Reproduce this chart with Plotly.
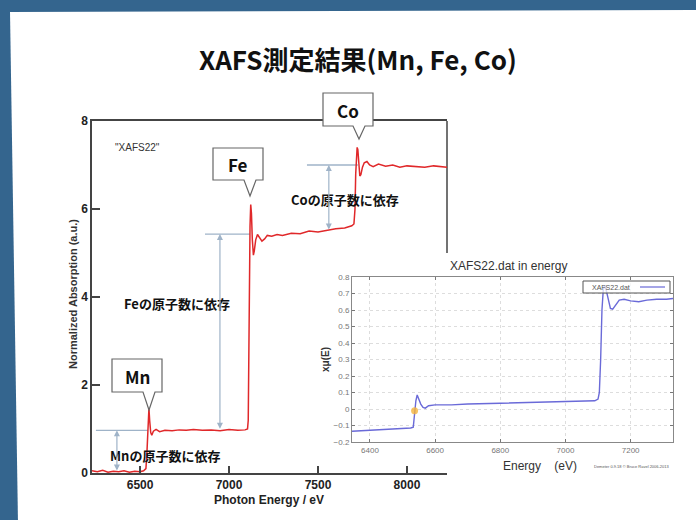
import plotly.graph_objects as go

W, H = 696, 520
def X(px): return px / W
def Y(py): return 1 - py / H

# ---------------- data ----------------
main_energy = [6230, 6260, 6290, 6320, 6350, 6380, 6410, 6440, 6470, 6500, 6520, 6533, 6538,
               6542, 6546, 6550, 6554, 6560, 6566, 6575, 6590, 6610, 6640, 6680, 6720, 6760,
               6800, 6850, 6900, 6950, 7000, 7050, 7090, 7104, 7108, 7111, 7114, 7118, 7122,
               7126, 7131, 7137, 7142, 7150, 7160, 7172, 7185, 7200, 7215, 7240, 7270, 7300,
               7350, 7400, 7450, 7500, 7550, 7600, 7650, 7690, 7702, 7708, 7712, 7716, 7720,
               7724, 7729, 7735, 7741, 7750, 7760, 7775, 7790, 7810, 7840, 7880, 7920, 7960,
               8000, 8050, 8100, 8150, 8200, 8225]
main_absorption = [0.05, 0.03, 0.06, 0.02, 0.04, 0.03, 0.05, 0.02, 0.04, 0.03, 0.05, 0.1, 0.4,
                   0.9, 1.25, 1.47, 1.2, 0.92, 0.86, 0.95, 0.99, 0.94, 0.97, 0.96, 0.98, 0.97,
                   0.99, 0.97, 0.98, 0.96, 0.99, 0.97, 0.98, 1.0, 1.2, 2.5, 4.5, 5.6, 6.1,
                   5.9, 5.3, 4.95, 5.05, 5.3, 5.42, 5.35, 5.27, 5.32, 5.4, 5.38, 5.42, 5.4,
                   5.45, 5.44, 5.5, 5.48, 5.52, 5.55, 5.57, 5.62, 5.66, 6.0, 6.8, 7.2, 7.4,
                   7.35, 7.0, 6.75, 6.78, 6.95, 7.05, 7.08, 7.0, 6.96, 7.02, 6.97, 7.0, 6.95,
                   6.98, 6.97, 6.95, 6.98, 6.96, 6.95]

inset_energy = [6345, 6400, 6450, 6500, 6525, 6533, 6537, 6541, 6545, 6550, 6556, 6563, 6570,
                6580, 6600, 6650, 6700, 6800, 6900, 7000, 7050, 7090, 7100, 7104, 7108, 7112,
                7116, 7120, 7125, 7131, 7138, 7145, 7155, 7165, 7180, 7200, 7225, 7250, 7280,
                7310, 7330]
inset_mu = [-0.135, -0.13, -0.125, -0.12, -0.115, -0.11, -0.02, 0.05, 0.085, 0.06, 0.03, 0.01,
            0.005, 0.02, 0.025, 0.025, 0.03, 0.035, 0.04, 0.045, 0.045, 0.05, 0.06, 0.1, 0.3,
            0.6, 0.72, 0.75, 0.72, 0.66, 0.61, 0.605, 0.635, 0.66, 0.665, 0.655, 0.65, 0.66,
            0.665, 0.665, 0.67]
e0_energy = [6537]
e0_mu = [-0.01]

main_xticks = [6500, 7000, 7500, 8000]
main_yticks = [0, 2, 4, 6, 8]
inset_xticks = [6400, 6600, 6800, 7000, 7200]

# reference levels (edge step heights)
mn_level, fe_level, co_level, fe_top_level = 0.97, 5.43, 7.0, 5.5

# ---------------- figure ----------------
fig = go.Figure()
fig.add_trace(go.Scatter(x=main_energy, y=main_absorption, mode="lines",
                         line=dict(color="#e0282a", width=1.5), showlegend=False,
                         xaxis="x", yaxis="y", hoverinfo="skip"))
fig.add_trace(go.Scatter(x=inset_energy, y=inset_mu, mode="lines",
                         line=dict(color="#6a6ad8", width=1.4), showlegend=False,
                         xaxis="x2", yaxis="y2", hoverinfo="skip"))
fig.add_trace(go.Scatter(x=e0_energy, y=e0_mu, mode="markers",
                         marker=dict(color="rgba(245,180,60,0.8)", size=7),
                         showlegend=False, xaxis="x2", yaxis="y2", hoverinfo="skip"))

axis_font = dict(family="Liberation Sans, Arial, sans-serif", size=12, color="#222", weight="bold")

shapes = []
# slide white panel (slightly skewed like the photographed slide)
shapes.append(dict(type="path", xref="paper", yref="paper",
                   path=f"M {X(10)} {Y(12)} L {X(700)} {Y(10)} L {X(700)} {Y(524)} L {X(18)} {Y(524)} Z",
                   fillcolor="white", line=dict(width=0), layer="below"))
# inset panel
shapes.append(dict(type="rect", xref="paper", yref="paper", x0=X(318), x1=X(700), y0=Y(470), y1=Y(253),
                   fillcolor="white", line=dict(width=0), layer="below"))
# main right border (upper part visible above inset)
shapes.append(dict(type="line", xref="paper", yref="paper", x0=X(447), x1=X(447), y0=Y(253), y1=Y(121),
                   line=dict(color="#444", width=1.5), layer="below"))

ref_col = "#9fb3c8"
for e0, e1, lv in [(6252, 6545, mn_level), (6865, 7118, fe_level), (7438, 7724, co_level)]:
    shapes.append(dict(type="line", xref="x", yref="y", x0=e0, x1=e1, y0=lv, y1=lv,
                       line=dict(color=ref_col, width=1.3), layer="below"))

# callout boxes
def callout(x1, x2, y1, y2, pl, pr, tx, ty):
    path = (f"M {X(x1)} {Y(y1)} L {X(x2)} {Y(y1)} L {X(x2)} {Y(y2)} L {X(pr)} {Y(y2)} "
            f"L {X(tx)} {Y(ty)} L {X(pl)} {Y(y2)} L {X(x1)} {Y(y2)} Z")
    return dict(type="path", xref="paper", yref="paper", path=path, fillcolor="white",
                line=dict(color="#666", width=1.2), layer="above")

shapes.append(callout(112, 162, 359, 392, 143, 155, 149, 410))
shapes.append(callout(213, 263, 148, 180, 244, 256, 250, 196))
shapes.append(callout(323, 373, 93, 126, 353, 365, 359, 139))

# inset legend
shapes.append(dict(type="rect", xref="paper", yref="paper", x0=X(583), x1=X(670), y0=Y(293), y1=Y(281),
                   fillcolor="rgba(255,255,255,0.75)", line=dict(color="#555", width=1), layer="above"))
shapes.append(dict(type="line", xref="paper", yref="paper", x0=X(640), x1=X(665), y0=Y(287), y1=Y(287),
                   line=dict(color="#6a6ad8", width=1.2), layer="above"))

annotations = []
def txt(x, y, s, size, color="#111", bold=False, family="Noto Sans CJK JP", **kw):
    annotations.append(dict(x=X(x), y=Y(y), xref="paper", yref="paper", text=s, showarrow=False,
                            xanchor="center", yanchor="middle",
                            font=dict(family=family, size=size, color=color,
                                      weight="bold" if bold else "normal"), **kw))

# title
txt(358, 58, "XAFS測定結果(Mn, Fe, Co)", 26, "#111", True)
# callout labels
txt(137, 376, "Mn", 17, "#111", True)
txt(238, 164, "Fe", 17, "#111", True)
txt(348, 110, "Co", 17, "#111", True)
# edge-step labels
txt(165, 455, "Mnの原子数に依存", 13, "#111", True)
txt(177, 303, "Feの原子数に依存", 13, "#111", True)
txt(345, 199, "Coの原子数に依存", 13, "#111", True)
txt(137, 147, '"XAFS22"', 10, "#333", False, "Liberation Sans, Arial")
# main axis titles
txt(269, 500, "Photon Energy / eV", 12, "#222", True, "Liberation Sans, Arial")
txt(73, 294, "Normalized Absorption (a.u.)", 11, "#333", True, "Liberation Sans, Arial", textangle=-90)
# inset texts
txt(508, 266, "XAFS22.dat in energy", 12, "#333", False, "Liberation Sans, Arial")
txt(540, 466, "Energy    (eV)", 12, "#333", False, "Liberation Sans, Arial")
txt(632, 466, "Demeter 0.9.18 © Bruce Ravel 2006-2013", 4, "#555", False, "Liberation Sans, Arial")
txt(325, 360, "xμ(E)", 10, "#333", True, "Liberation Sans, Arial", textangle=-90)
txt(611, 287, "XAFS22.dat", 7, "#555", False, "Liberation Sans, Arial")

# double-headed arrows for edge steps
for e, y0, y1 in [(6370, 0.02, mn_level), (6949, mn_level, fe_level), (7561, fe_top_level, co_level)]:
    annotations.append(dict(x=e, y=y1, ax=e, ay=y0, xref="x", yref="y", axref="x", ayref="y",
                            text="", showarrow=True, arrowhead=2, arrowside="end+start",
                            arrowsize=1, arrowwidth=1.2, arrowcolor=ref_col))

fig.update_layout(
    width=W, height=H, margin=dict(l=0, r=0, t=0, b=0, pad=0, autoexpand=False),
    paper_bgcolor="#34658e", plot_bgcolor="rgba(0,0,0,0)",
    shapes=shapes, annotations=annotations, showlegend=False,
    xaxis=dict(domain=[X(92), X(447)], range=[6230, 8225], tickvals=main_xticks,
               ticks="inside", ticklen=7, tickwidth=1.5, tickcolor="#444", automargin=False,
               showline=True, linecolor="#444", linewidth=1.5, mirror=True,
               showgrid=False, zeroline=False, tickfont=axis_font, anchor="y"),
    yaxis=dict(domain=[Y(473), Y(121)], range=[0, 8], tickvals=main_yticks,
               ticks="inside", ticklen=8, tickwidth=1.5, tickcolor="#444", automargin=False,
               showline=True, linecolor="#444", linewidth=1.5, mirror=False,
               showgrid=False, zeroline=False, tickfont=axis_font, anchor="x"),
    xaxis2=dict(domain=[X(352), X(673)], range=[6345, 7330], tickvals=inset_xticks,
                ticks="inside", ticklen=3, tickcolor="#777", automargin=False,
                showline=True, linecolor="#888", linewidth=1, mirror="allticks",
                showgrid=True, gridcolor="#ddd", griddash="dot", zeroline=False,
                tickfont=dict(family="Liberation Sans, Arial", size=8, color="#777"), anchor="y2"),
    yaxis2=dict(domain=[Y(442), Y(277)], range=[-0.2, 0.8], dtick=0.1,
                ticks="inside", ticklen=3, tickcolor="#777", automargin=False,
                showline=True, linecolor="#888", linewidth=1, mirror="allticks",
                showgrid=True, gridcolor="#ddd", griddash="dot", zeroline=False,
                tickfont=dict(family="Liberation Sans, Arial", size=8, color="#777"), anchor="x2"),
)

# place the fixed-size figure at the page origin (no default body margin)
fig.write_html("out.html", config={"displayModeBar": False},
               post_script="document.body.style.margin='0';document.body.style.overflow='hidden';")
